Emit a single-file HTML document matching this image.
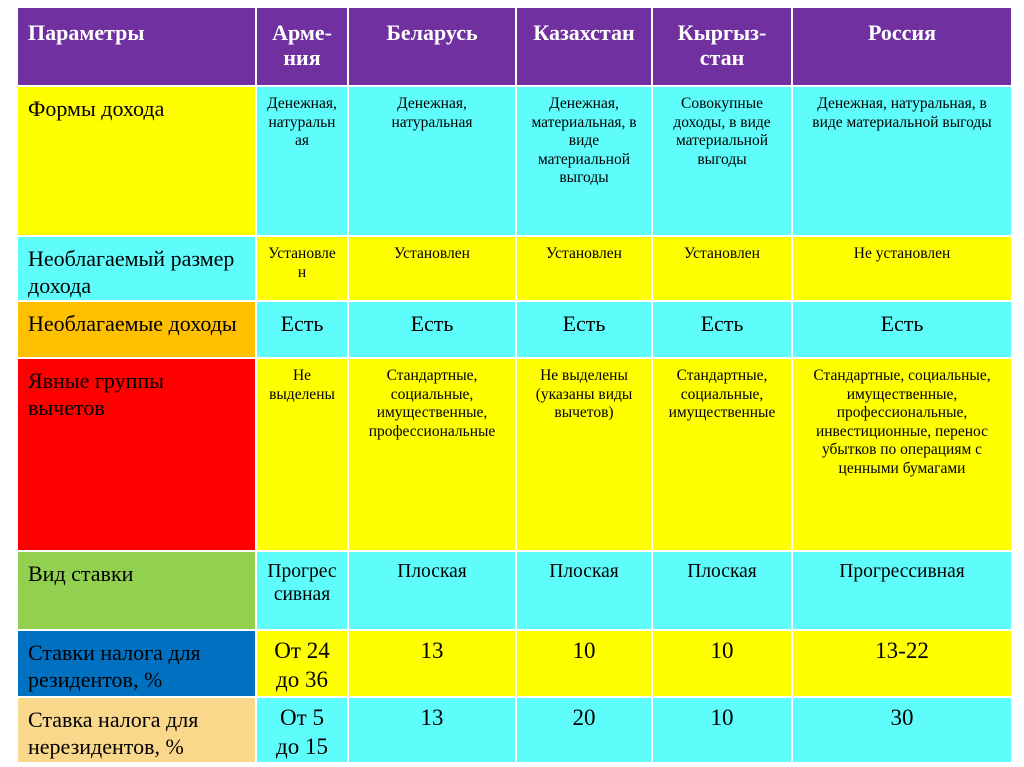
<!DOCTYPE html>
<html><head><meta charset="utf-8"><style>
body{margin:0;width:1024px;height:767px;background:#fff;position:relative;overflow:hidden;font-family:"Liberation Serif",serif;}
.c{position:absolute;box-sizing:border-box;text-align:center;color:#000;font-family:"Liberation Serif",serif;}
.h{background:#7030a0;color:#fff;font-weight:bold;font-size:22px;line-height:25px;padding-top:12px;}
.f{text-align:left;padding-left:10px;font-size:22px;line-height:27px;padding-top:8px;}
.s{font-size:15.5px;padding:8px 2px 0;line-height:18.5px;}
.m{font-size:19.5px;padding-top:8px;line-height:23px;}
.l{font-size:22px;padding-top:11px;line-height:22px;}
.n{font-size:23px;padding-top:5px;line-height:29px;}
.Y{background:#ffff00}.C{background:#5ffcfc}
</style></head><body>
<div id="t"></div>
<script>
const xs=[18,257,349,517,653,793,1013];
const ys=[8,87,237,302,359,552,631,698,764];
const rows=[
 [["h","","Параметры"],["h","","Арме-<br>ния"],["h","","Беларусь"],["h","","Казахстан"],["h","","Кыргыз-<br>стан"],["h","","Россия"]],
 [["f","#ffff00","Формы дохода"],["s C","","Денежная,<br>натуральн<br>ая"],["s C","","Денежная,<br>натуральная"],["s C","","Денежная,<br>материальная, в<br>виде<br>материальной<br>выгоды"],["s C","","Совокупные<br>доходы, в виде<br>материальной<br>выгоды"],["s C","","Денежная, натуральная, в<br>виде материальной выгоды"]],
 [["f","#5ffcfc","Необлагаемый размер<br>дохода"],["s Y","","Установле<br>н"],["s Y","","Установлен"],["s Y","","Установлен"],["s Y","","Установлен"],["s Y","","Не установлен"]],
 [["f","#ffc000","Необлагаемые доходы"],["l C","","Есть"],["l C","","Есть"],["l C","","Есть"],["l C","","Есть"],["l C","","Есть"]],
 [["f","#ff0000","Явные группы<br>вычетов"],["s Y","","Не<br>выделены"],["s Y","","Стандартные,<br>социальные,<br>имущественные,<br>профессиональные"],["s Y","","Не выделены<br>(указаны виды<br>вычетов)"],["s Y","","Стандартные,<br>социальные,<br>имущественные"],["s Y","","Стандартные, социальные,<br>имущественные,<br>профессиональные,<br>инвестиционные, перенос<br>убытков по операциям с<br>ценными бумагами"]],
 [["f","#92d050","Вид ставки"],["m C","","Прогрес<br>сивная"],["m C","","Плоская"],["m C","","Плоская"],["m C","","Плоская"],["m C","","Прогрессивная"]],
 [["f","#0070c0","Ставки налога для<br>резидентов, %"],["n Y","","От 24<br>до 36"],["n Y","","13"],["n Y","","10"],["n Y","","10"],["n Y","","13-22"]],
 [["f","#f9d78b","Ставка налога для<br>нерезидентов, %"],["n C","","От 5<br>до 15"],["n C","","13"],["n C","","20"],["n C","","10"],["n C","","30"]]
];
const t=document.getElementById('t');
rows.forEach((r,i)=>r.forEach((c,j)=>{
 const d=document.createElement('div');
 d.className='c '+c[0];
 if(c[1])d.style.background=c[1];
 if(i===0&&j===0){d.style.textAlign='left';d.style.paddingLeft='10px';}
 d.style.left=xs[j]+'px';d.style.top=ys[i]+'px';
 d.style.width=(xs[j+1]-xs[j]-2)+'px';d.style.height=(ys[i+1]-ys[i]-2)+'px';
 d.innerHTML=c[2];
 
 
 t.appendChild(d);
}));
</script>
</body></html>
